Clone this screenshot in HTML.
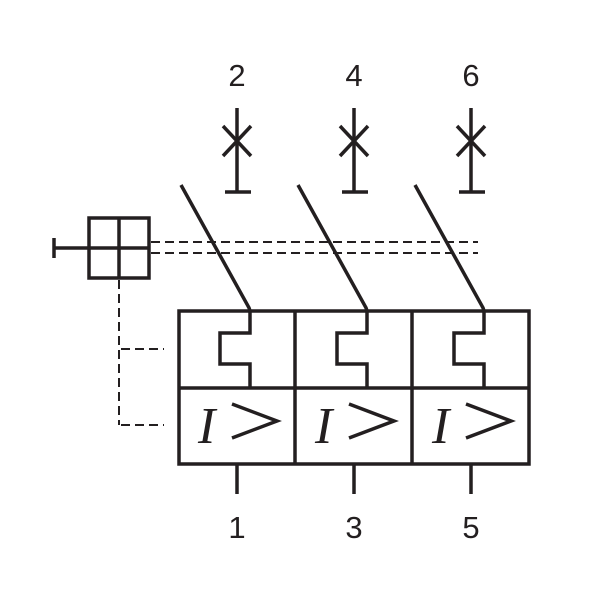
<!DOCTYPE html>
<html><head><style>body{margin:0;background:#fff}svg{display:block}</style></head><body>
<svg width="600" height="600" viewBox="0 0 600 600" xmlns="http://www.w3.org/2000/svg">
<g stroke="#231f20" fill="none" stroke-width="3.5">
<rect x="179" y="311" width="350" height="153"/>
<line x1="179" y1="388" x2="529" y2="388"/>
<line x1="295" y1="311" x2="295" y2="464"/>
<line x1="412" y1="311" x2="412" y2="464"/>
<g id="c">
<path d="M181,185 L248,306 Q250,309 250,313 L250,333 L220,333 L220,364 L250,364 L250,388"/>
<line x1="237" y1="108" x2="237" y2="192"/>
<line x1="225" y1="192" x2="251" y2="192"/>
<line x1="223" y1="126" x2="251" y2="156"/>
<line x1="251" y1="126" x2="223" y2="156"/>
<line x1="237" y1="464" x2="237" y2="494"/>
</g>
<use href="#c" x="117"/>
<use href="#c" x="234"/>
<rect x="89" y="218" width="60" height="60"/>
<line x1="119" y1="218" x2="119" y2="278"/>
<line x1="54" y1="248" x2="149" y2="248"/>
<line x1="54" y1="238" x2="54" y2="258"/>
</g>
<g stroke="#231f20" fill="none" stroke-width="2" stroke-dasharray="9,5">
<line x1="151" y1="242" x2="478" y2="242"/>
<line x1="151" y1="253" x2="478" y2="253"/>
<line x1="119" y1="280" x2="119" y2="425"/>
<line x1="121" y1="349" x2="164" y2="349"/>
<line x1="121" y1="425" x2="164" y2="425"/>
</g>
<g font-family="Liberation Sans, sans-serif" font-size="31" fill="#231f20" text-anchor="middle">
<text x="237" y="86">2</text><text x="354" y="86">4</text><text x="471" y="86">6</text>
<text x="237" y="538">1</text><text x="354" y="538">3</text><text x="471" y="538">5</text>
</g>
<g font-family="Liberation Serif, serif" font-style="italic" font-size="52" fill="#231f20">
<text x="198" y="443">I</text><text x="315" y="443">I</text><text x="432" y="443">I</text>
</g>
<g stroke="#231f20" fill="none" stroke-width="3.5">
<g id="g"><polyline points="232,404 277,421 232,438"/></g>
<use href="#g" x="117"/><use href="#g" x="234"/>
</g>
</svg>
</body></html>
